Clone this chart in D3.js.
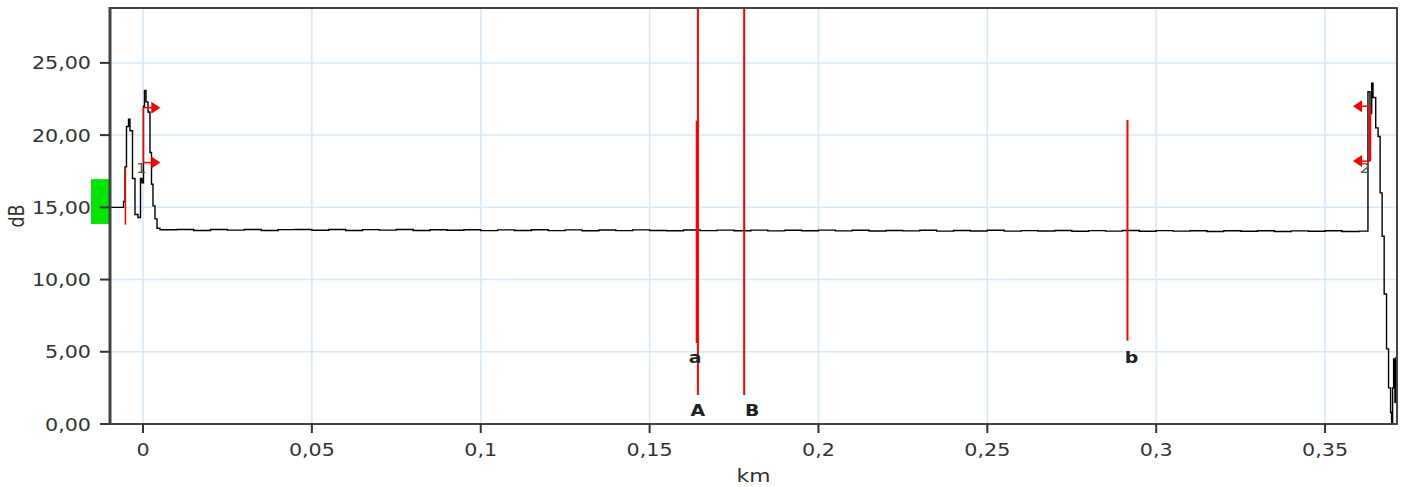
<!DOCTYPE html>
<html>
<head>
<meta charset="utf-8">
<script src="https://cdn.jsdelivr.net/npm/d3@7"></script>
<style>
  body { margin: 0; background: #fff; }
  svg { display: block; }
</style>
</head>
<body>
<div id="chart"></div>
<script>
// trace, km / dB
const traceKm = [
  -0.00977, -0.00622, -0.00577, -0.00533, -0.00489, -0.00429, -0.00385, -0.00311,
  -0.00237, -0.00148, -0.00074, -0.00030, 0.00015, 0.00044, 0.00089, 0.00148,
  0.00207, 0.00252, 0.00296, 0.00355, 0.00415, 0.00503,
  0.010, 0.015, 0.020, 0.025, 0.030, 0.035, 0.040, 0.045, 0.050, 0.055,
  0.060, 0.065, 0.070, 0.075, 0.080, 0.085, 0.090, 0.095, 0.100, 0.105,
  0.110, 0.115, 0.120, 0.125, 0.130, 0.135, 0.140, 0.145, 0.150, 0.155,
  0.160, 0.165, 0.170, 0.175, 0.180, 0.185, 0.190, 0.195, 0.200, 0.205,
  0.210, 0.215, 0.220, 0.225, 0.230, 0.235, 0.240, 0.245, 0.250, 0.255,
  0.260, 0.265, 0.270, 0.275, 0.280, 0.285, 0.290, 0.295, 0.300, 0.305,
  0.310, 0.315, 0.320, 0.325, 0.330, 0.335, 0.340, 0.345, 0.350, 0.355,
  0.360, 0.3622, 0.3627, 0.3633, 0.3638, 0.3642, 0.3650, 0.3657, 0.3663,
  0.3669, 0.3675, 0.3682, 0.3688, 0.3694, 0.3697, 0.3700, 0.3703, 0.3707,
  0.3710, 0.3713
];
const traceDb = [
  15.0, 15.0, 15.4, 17.8, 20.6, 21.1, 20.3, 17.0,
  14.5, 14.3, 17.0, 16.7, 22.0, 23.1, 22.3, 21.6,
  18.8, 16.6, 15.1, 14.2, 13.55, 13.45,
  13.47, 13.40, 13.47, 13.42, 13.47, 13.40, 13.46, 13.47, 13.41, 13.47,
  13.40, 13.46, 13.42, 13.47, 13.40, 13.45, 13.41, 13.45, 13.39, 13.44,
  13.40, 13.45, 13.39, 13.44, 13.38, 13.43, 13.39, 13.44, 13.40, 13.38,
  13.43, 13.39, 13.42, 13.38, 13.42, 13.37, 13.41, 13.38, 13.42, 13.37,
  13.41, 13.36, 13.40, 13.37, 13.41, 13.35, 13.40, 13.36, 13.41, 13.35,
  13.39, 13.36, 13.40, 13.34, 13.39, 13.35, 13.40, 13.34, 13.39, 13.35,
  13.38, 13.33, 13.38, 13.34, 13.38, 13.33, 13.37, 13.34, 13.38, 13.33,
  13.35, 13.35, 23.0, 21.5, 23.6, 22.6, 20.5, 19.9, 16.0,
  13.0, 9.0, 5.2, 2.5, 0.8, 0.0, 2.5, 4.5, 1.5,
  4.6, 3.0
];

const xTicks = [0, 0.05, 0.1, 0.15, 0.2, 0.25, 0.3, 0.35];
const xTickLabels = ["0", "0,05", "0,1", "0,15", "0,2", "0,25", "0,3", "0,35"];
const yTicks = [0, 5, 10, 15, 20, 25];
const yTickLabels = ["0,00", "5,00", "10,00", "15,00", "20,00", "25,00"];

// cursors A/B (full height), event markers a/b
const cursorNames = ["A", "B"];
const cursorKm = [0.1643, 0.1780];
const eventNames = ["a", "b"];
const eventKm = [0.1641, 0.2915];
const eventTop = [21.0, 21.05];
const eventBottom = [5.6, 5.77];

// event brackets 1 / 2
const bracketNames = ["1", "2"];
const bracketKm = [0.0001, 0.3633];
const bracketDir = [1, -1];
const bracketHi = [21.9, 22.0];
const bracketLo = [18.1, 18.2];

const W = 1404, H = 487;
const margin = { top: 8, right: 7, bottom: 63, left: 110 };
const stretch = 1.18;

const svg = d3.select("#chart").append("svg")
  .attr("width", W).attr("height", H)
  .style("font-family", "'DejaVu Sans', Verdana, sans-serif");

const x = d3.scaleLinear().domain([-0.00977, 0.3713]).range([margin.left, W - margin.right]);
const y = d3.scaleLinear().domain([0, 28.8]).range([H - margin.bottom, margin.top]);

const x0 = margin.left, x1 = W - margin.right;
const y0 = H - margin.bottom, y1 = margin.top;

// wide text helper, the original rendering is stretched horizontally
function label(g, tx, ty, str, anchor, size, weight, fill) {
  return g.append("text")
    .attr("transform", `translate(${tx},${ty}) scale(${stretch},1)`)
    .attr("text-anchor", anchor)
    .style("font-size", size + "px")
    .style("font-weight", weight)
    .attr("fill", fill)
    .text(str);
}

// grid
svg.append("g").selectAll("line").data(xTicks).join("line")
  .attr("x1", d => x(d)).attr("x2", d => x(d))
  .attr("y1", y1).attr("y2", y0)
  .attr("stroke", "#d4e9fa").attr("stroke-width", 1.5);
svg.append("g").selectAll("line").data(yTicks).join("line")
  .attr("x1", x0).attr("x2", x1)
  .attr("y1", d => y(d)).attr("y2", d => y(d))
  .attr("stroke", "#d4e9fa").attr("stroke-width", 1.5);

// green level marker left of the axis
svg.append("rect")
  .attr("x", x0 - 19).attr("width", 18)
  .attr("y", y(16.95)).attr("height", y(13.85) - y(16.95))
  .attr("fill", "#00e600");

// trace
const pts = traceKm.map((k, i) => [k, traceDb[i]]);
const line = d3.line().x(d => x(d[0])).y(d => y(d[1])).curve(d3.curveStepAfter);
svg.append("path").datum(pts)
  .attr("d", line)
  .attr("fill", "none")
  .attr("stroke", "#000")
  .attr("stroke-width", 1.4);

const red = "#ff0000";

// small red start marker
svg.append("line")
  .attr("x1", x(-0.0052)).attr("x2", x(-0.0052))
  .attr("y1", y(17.7)).attr("y2", y(13.8))
  .attr("stroke", red).attr("stroke-width", 1.5);

// brackets
bracketNames.forEach((n, i) => {
  const g = svg.append("g");
  const bx = x(bracketKm[i]);
  const dir = bracketDir[i];
  label(g, bx + (i === 0 ? -2 : -5), y(17.4), n, "middle", 14, "normal", "#555");
  g.append("line")
    .attr("x1", bx).attr("x2", bx)
    .attr("y1", y(bracketHi[i])).attr("y2", y(bracketLo[i]))
    .attr("stroke", red).attr("stroke-width", i === 0 ? 1.5 : 2.5);
  [bracketHi[i], bracketLo[i]].forEach(v => {
    const yy = y(v);
    g.append("line")
      .attr("x1", bx).attr("x2", bx + dir * 9)
      .attr("y1", yy).attr("y2", yy)
      .attr("stroke", red).attr("stroke-width", 1.5);
    g.append("path")
      .attr("d", `M${bx + dir * 8},${yy - 6}L${bx + dir * 17},${yy}L${bx + dir * 8},${yy + 6}Z`)
      .attr("fill", red);
  });
});

// cursors
cursorNames.forEach((n, i) => {
  const cx = x(cursorKm[i]);
  svg.append("line")
    .attr("x1", cx).attr("x2", cx)
    .attr("y1", y1).attr("y2", y(2.0))
    .attr("stroke", red).attr("stroke-width", 2);
  label(svg, i === 0 ? cx : cx + 8, y(0.55), n, "middle", 16, "bold", "#222");
});

// events
eventNames.forEach((n, i) => {
  const ex = x(eventKm[i]);
  svg.append("line")
    .attr("x1", ex).attr("x2", ex)
    .attr("y1", y(eventTop[i])).attr("y2", y(eventBottom[i]))
    .attr("stroke", red).attr("stroke-width", i === 0 ? 3 : 2);
  label(svg, i === 0 ? ex - 2 : ex + 4, y(4.2), n, "middle", 16, "bold", "#222");
});

// frame
svg.append("rect")
  .attr("x", x0).attr("y", y1)
  .attr("width", x1 - x0).attr("height", y0 - y1)
  .attr("fill", "none").attr("stroke", "#444").attr("stroke-width", 2);
svg.append("line")
  .attr("x1", x0).attr("x2", x0).attr("y1", y1 - 1).attr("y2", y0 + 1)
  .attr("stroke", "#444").attr("stroke-width", 3);

// ticks + labels
const axisColor = "#333";
const xt = svg.append("g");
xTicks.forEach((t, i) => {
  xt.append("line")
    .attr("x1", x(t)).attr("x2", x(t))
    .attr("y1", y0).attr("y2", y0 + 9)
    .attr("stroke", axisColor).attr("stroke-width", 2);
  label(xt, x(t), y0 + 32, xTickLabels[i], "middle", 17.5, "normal", axisColor);
});
const yt = svg.append("g");
yTicks.forEach((t, i) => {
  yt.append("line")
    .attr("x1", x0 - 10).attr("x2", x0)
    .attr("y1", y(t)).attr("y2", y(t))
    .attr("stroke", axisColor).attr("stroke-width", 2);
  label(yt, x0 - 19, y(t) + 6.5, yTickLabels[i], "end", 17.5, "normal", axisColor);
});

// axis titles
label(svg, (x0 + x1) / 2, H - 5, "km", "middle", 18.5, "normal", axisColor);
svg.append("text")
  .attr("transform", `translate(24,${(y0 + y1) / 2}) rotate(-90) scale(1,${stretch})`)
  .attr("text-anchor", "middle")
  .style("font-size", "17.5px")
  .attr("fill", axisColor)
  .text("dB");
</script>
</body>
</html>
